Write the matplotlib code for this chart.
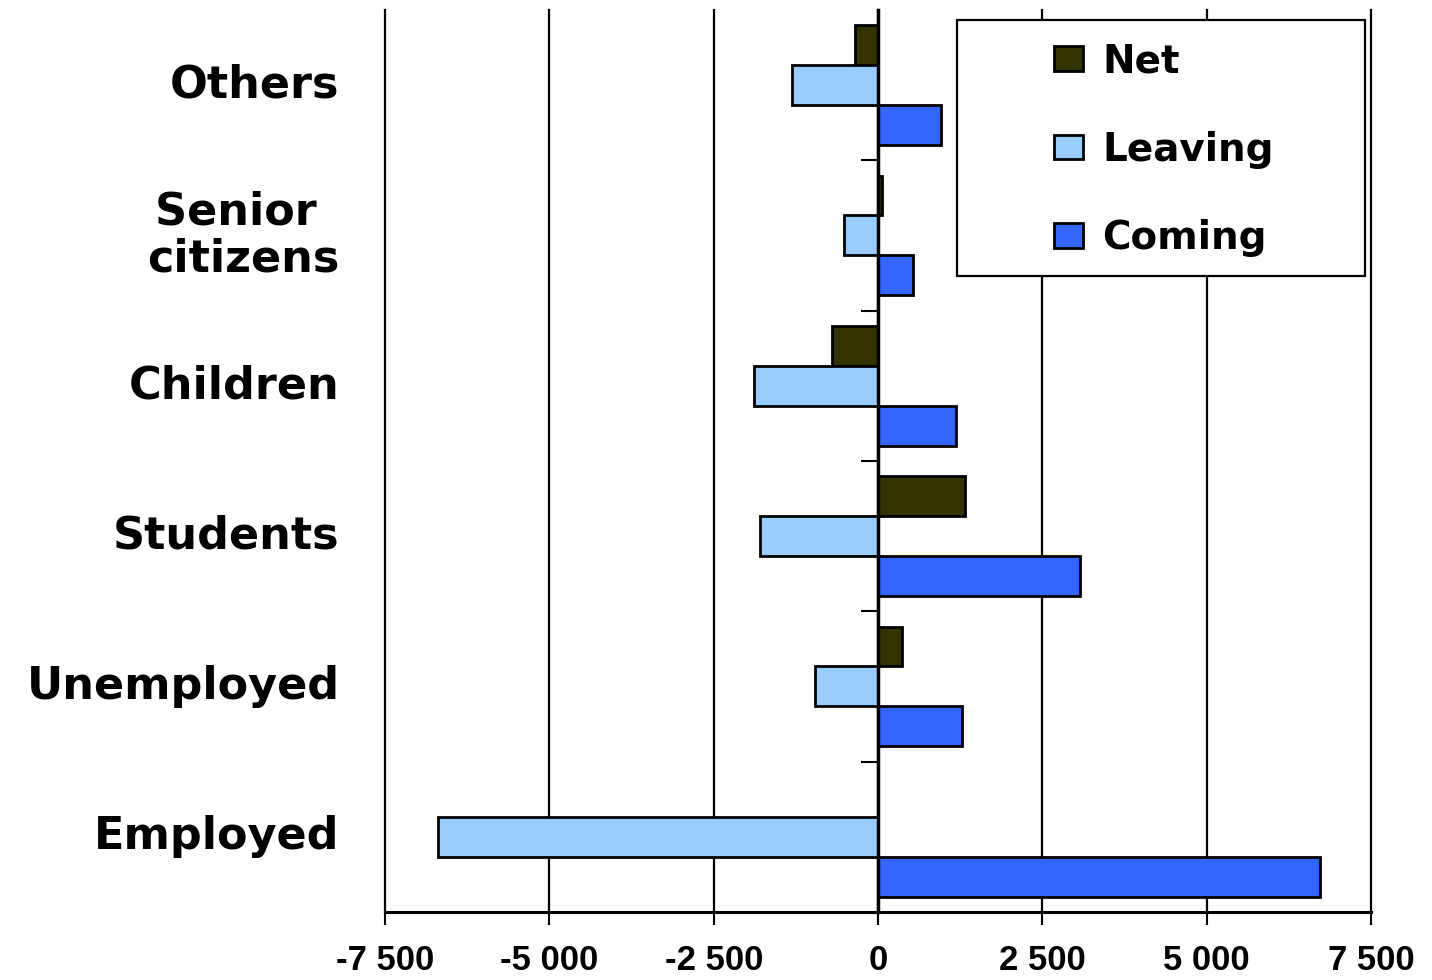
import matplotlib
matplotlib.use("Agg")
import matplotlib.pyplot as plt
from matplotlib.patches import Rectangle
from matplotlib.ticker import FuncFormatter
import numpy as np

# bottom to top
categories = ["Employed", "Unemployed", "Students", "Children", "Senior \ncitizens", "Others"]
net = [0, 370, 1320, -700, 60, -350]
leaving = [-6700, -960, -1800, -1890, -520, -1310]
coming = [6720, 1280, 3080, 1190, 530, 960]

COLORS = {"Net": "#333300", "Leaving": "#99CCFF", "Coming": "#3366FF"}
BAR_H = 0.266

fig = plt.figure(figsize=(14.32, 9.8), dpi=100)
ax = fig.add_axes([0.2689, 0.0694, 0.6885, 0.9204])

y = np.arange(len(categories))
ax.barh(y + BAR_H, net, height=BAR_H, color=COLORS["Net"], edgecolor="black", linewidth=2, label="Net", zorder=3)
ax.barh(y, leaving, height=BAR_H, color=COLORS["Leaving"], edgecolor="black", linewidth=2, label="Leaving", zorder=3)
ax.barh(y - BAR_H, coming, height=BAR_H, color=COLORS["Coming"], edgecolor="black", linewidth=2, label="Coming", zorder=3)

ax.set_xlim(-7500, 7500)
ax.set_ylim(-0.5, len(categories) - 0.5)

xt = np.arange(-7500, 7501, 2500)
ax.set_xticks(xt)
ax.xaxis.set_major_formatter(FuncFormatter(lambda v, p: f"{int(v):,}".replace(",", " ")))
ax.tick_params(axis="x", direction="out", length=9, width=1.5, pad=14, labelsize=25)
for lab in ax.get_xticklabels():
    lab.set_fontfamily(["Liberation Sans", "DejaVu Sans"])
    lab.set_fontweight("bold")

ax.grid(axis="x", color="black", linewidth=1.6, zorder=1)
for ln in ax.get_xgridlines():
    ln.set_clip_on(False)

# category axis crosses at zero
ax.spines["left"].set_position(("data", 0))
ax.spines["left"].set_linewidth(2.5)
ax.spines["left"].set_zorder(4)
ax.spines["top"].set_visible(False)
ax.spines["right"].set_visible(False)
ax.spines["bottom"].set_linewidth(2.2)
ax.set_yticks(np.arange(0.5, len(categories) - 1, 1.0))
ax.set_yticklabels([])
ax.tick_params(axis="y", direction="out", length=12, width=1.5)

trans = ax.get_yaxis_transform()
for yi, name in zip(y, categories):
    ax.text(-0.046, yi, name, transform=trans, ha="right", va="center",
            multialignment="center", fontsize=32, fontweight="bold", linespacing=1.1)

# legend box
ax.add_patch(Rectangle((0.580, 0.705), 0.414, 0.284, transform=ax.transAxes,
                       facecolor="white", edgecolor="black", linewidth=1.6, zorder=5))
leg = ax.legend(loc="center", bbox_to_anchor=(0.79, 0.845), frameon=False,
                handlelength=0.75, handleheight=0.6, handletextpad=0.5,
                labelspacing=1.3, prop={"weight": "bold", "size": 28})
leg.set_zorder(6)

fig.savefig("out.png", dpi=100)
